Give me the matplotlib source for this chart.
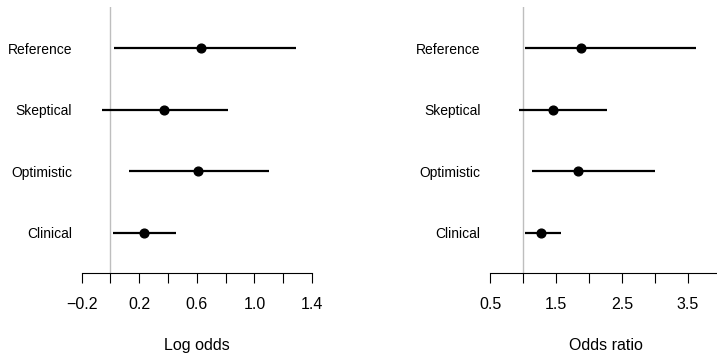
import matplotlib

matplotlib.use("Agg")
import matplotlib.pyplot as plt
import numpy as np

plt.rcParams["font.family"] = ["Liberation Sans", "DejaVu Sans"]

# priors, top to bottom
PRIORS = ["Reference", "Skeptical", "Optimistic", "Clinical"]
LOG_ODDS_MEAN = [0.632, 0.373, 0.607, 0.234]
LOG_ODDS_LOW = [0.023, -0.06, 0.13, 0.019]
LOG_ODDS_HIGH = [1.287, 0.817, 1.10, 0.454]

LOG_TICKS = [-0.2, 0.0, 0.2, 0.4, 0.6, 0.8, 1.0, 1.2, 1.4]
LOG_TICK_LABELS = ["\u22120.2", "", "0.2", "", "0.6", "", "1.0", "", "1.4"]
OR_TICKS = [0.5, 1.0, 1.5, 2.0, 2.5, 3.0, 3.5, 4.0]
OR_TICK_LABELS = ["0.5", "", "1.5", "", "2.5", "", "3.5", ""]

W, H = 717, 353
fig = plt.figure(figsize=(W / 100, H / 100), dpi=100)


def forest(ax, mean, low, high, null, xlim, ticks, tick_labels, xlabel):
    y = np.arange(len(PRIORS))[::-1] + 1
    ax.axvline(null, color="#BEBEBE", linewidth=1.0, zorder=1)
    ax.hlines(y, low, high, color="black", linewidth=1.6, zorder=2)
    ax.plot(mean, y, "o", color="black", markersize=6.3, zorder=3)
    ax.set_xlim(*xlim)
    ax.set_ylim(0.349, 4.667)
    ax.set_yticks(y)
    ax.set_yticklabels(PRIORS, fontsize=10)
    ax.tick_params(axis="y", length=0, pad=7)
    ax.set_xticks(ticks)
    ax.set_xticklabels(tick_labels, fontsize=11.5)
    ax.tick_params(axis="x", length=7.5, width=0.8, pad=10)
    for side in ["top", "right", "left"]:
        ax.spines[side].set_visible(False)
    ax.spines["bottom"].set_linewidth(0.8)
    ax.set_xlabel(xlabel, fontsize=11.5, labelpad=19)


bottom = (H - 272.7) / H
height = (272.7 - 7.3) / H

ax1 = fig.add_axes([81.7 / W, bottom, (312 - 81.7) / W, height])
forest(ax1, LOG_ODDS_MEAN, LOG_ODDS_LOW, LOG_ODDS_HIGH, 0.0,
       (-0.2, 1.4), LOG_TICKS, LOG_TICK_LABELS, "Log odds")

ax2 = fig.add_axes([490.3 / W, bottom, (721 - 490.3) / W, height])
forest(ax2, np.exp(LOG_ODDS_MEAN), np.exp(LOG_ODDS_LOW), np.exp(LOG_ODDS_HIGH), 1.0,
       (0.5, 4.0), OR_TICKS, OR_TICK_LABELS, "Odds ratio")

fig.savefig("out.png", dpi=100)
